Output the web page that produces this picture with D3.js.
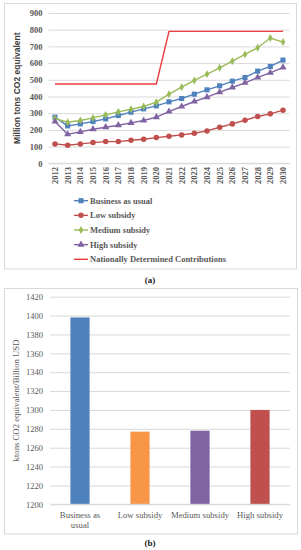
<!DOCTYPE html>
<html>
<head>
<meta charset="utf-8">
<script src="https://cdnjs.cloudflare.com/ajax/libs/d3/7.8.5/d3.min.js"></script>
<style>
  body { margin: 0; background: #fff; }
  svg { display: block; }
  .tick line { stroke: #d9d9d9; }
  .domain { display: none; }
</style>
</head>
<body>
<div id="chart"></div>
<script>
var width = 301;
var height = 550;

// panel (a) data
var years = [2012, 2013, 2014, 2015, 2016, 2017, 2018, 2019, 2020, 2021,
  2022, 2023, 2024, 2025, 2026, 2027, 2028, 2029, 2030];
var businessAsUsual = [276, 224, 236, 250, 266, 286, 306, 326, 344, 368,
  388, 414, 440, 464, 492, 514, 552, 580, 618];
var lowSubsidy = [116, 108, 116, 124, 130, 130, 138, 144, 154, 162,
  170, 180, 194, 216, 236, 258, 280, 296, 318];
var mediumSubsidy = [268, 246, 256, 272, 290, 308, 324, 340, 366, 414,
  456, 496, 534, 572, 612, 652, 692, 750, 726];
var highSubsidy = [250, 174, 188, 204, 216, 228, 242, 256, 276, 310,
  340, 370, 396, 426, 454, 482, 514, 542, 574];
var ndc = [475, 475, 475, 475, 475, 475, 475, 475, 475, 790,
  790, 790, 790, 790, 790, 790, 790, 790, 790];
var lineTicks = [0, 100, 200, 300, 400, 500, 600, 700, 800, 900];

// panel (b) data
var scenarios = ["Business as usual", "Low subsidy", "Medium subsidy", "High subsidy"];
var intensity = [1398, 1277, 1278, 1300];
var barTicks = [1200, 1220, 1240, 1260, 1280, 1300, 1320, 1340, 1360, 1380, 1400, 1420];

var serif = "'Liberation Serif', 'DejaVu Serif', serif";
var grey = "#595959";

var svg = d3.select("#chart").append("svg")
  .attr("width", width)
  .attr("height", height);

// ---------- panel (a) ----------
svg.append("rect")
  .attr("x", 4.5).attr("y", 3.5)
  .attr("width", 292).attr("height", 265.5)
  .attr("fill", "none").attr("stroke", "#d9d9d9");

var x = d3.scalePoint().domain(years).range([55, 283]);
var y = d3.scaleLinear().domain([0, 900]).range([163.3, 13]);

svg.append("g")
  .attr("transform", "translate(48.5,0)")
  .call(d3.axisLeft(y).tickValues(lineTicks).tickSize(-241).tickPadding(6))
  .call(g => g.selectAll("text")
    .attr("font-family", serif).attr("font-size", 8.5)
    .attr("font-weight", "bold").attr("fill", grey));

svg.append("line")
  .attr("x1", 48.5).attr("x2", 289.5)
  .attr("y1", y(0)).attr("y2", y(0))
  .attr("stroke", "#d9d9d9");

svg.append("g").selectAll("text")
  .data(years).enter().append("text")
  .attr("transform", d => "translate(" + x(d) + ",167) rotate(-90)")
  .attr("text-anchor", "end")
  .attr("dy", "0.35em")
  .attr("font-family", serif).attr("font-size", 8.5)
  .attr("font-weight", "bold").attr("fill", grey)
  .text(d => d);

svg.append("text")
  .attr("transform", "translate(20," + y(450) + ") rotate(-90)")
  .attr("text-anchor", "middle")
  .attr("font-family", "'Liberation Sans', Arial, sans-serif")
  .attr("font-size", 8.5).attr("font-weight", "bold").attr("fill", "#404040")
  .text("Million tons CO2  equivalent");

var series = [
  { name: "Business as usual", values: businessAsUsual, color: "#4f81bd", symbol: d3.symbolSquare, size: 26 },
  { name: "Low subsidy", values: lowSubsidy, color: "#c0504d", symbol: d3.symbolCircle, size: 24 },
  { name: "Medium subsidy", values: mediumSubsidy, color: "#9bbb59", symbol: d3.symbolDiamond, size: 18 },
  { name: "High subsidy", values: highSubsidy, color: "#8064a2", symbol: d3.symbolTriangle, size: 22 },
  { name: "Nationally Determined Contributions", values: ndc, color: "#ef3a3f", symbol: null }
];

var line = d3.line()
  .x((d, i) => x(years[i]))
  .y(d => y(d));

// draw NDC first, then scenarios
[4, 0, 1, 2, 3].forEach(function (k) {
  var s = series[k];
  svg.append("path")
    .attr("d", line(s.values))
    .attr("fill", "none")
    .attr("stroke", s.color)
    .attr("stroke-width", 1.4);
  if (s.symbol) {
    svg.append("g").selectAll("path")
      .data(s.values).enter().append("path")
      .attr("transform", (d, i) => "translate(" + x(years[i]) + "," + y(d) + ")")
      .attr("d", d3.symbol().type(s.symbol).size(s.size))
      .attr("fill", s.color);
  }
});

// legend
var legend = svg.append("g").selectAll("g")
  .data(series).enter().append("g")
  .attr("transform", (d, i) => "translate(74," + (200.7 + i * 14.65) + ")");
legend.append("line")
  .attr("x1", 0).attr("x2", 14)
  .attr("stroke", d => d.color).attr("stroke-width", 1.4);
legend.filter(d => d.symbol).append("path")
  .attr("transform", "translate(7,0)")
  .attr("d", d => d3.symbol().type(d.symbol).size(d.size)())
  .attr("fill", d => d.color);
legend.append("text")
  .attr("x", 16).attr("dy", "0.35em")
  .attr("font-family", serif).attr("font-size", 8.5)
  .attr("font-weight", "bold").attr("fill", grey)
  .text(d => d.name);

svg.append("text")
  .attr("x", 150).attr("y", 283)
  .attr("text-anchor", "middle")
  .attr("font-family", serif).attr("font-size", 9)
  .attr("font-weight", "bold").attr("fill", "#222")
  .text("(a)");

// ---------- panel (b) ----------
svg.append("rect")
  .attr("x", 4.5).attr("y", 288.5)
  .attr("width", 293).attr("height", 245.5)
  .attr("fill", "none").attr("stroke", "#d9d9d9");

var xb = d3.scaleBand().domain(scenarios).range([50, 290]).paddingInner(0.68).paddingOuter(0.34);
var yb = d3.scaleLinear().domain([1200, 1420]).range([504.3, 296.7]);

svg.append("g")
  .attr("transform", "translate(50,0)")
  .call(d3.axisLeft(yb).tickValues(barTicks).tickFormat(d3.format("d")).tickSize(-240).tickPadding(7))
  .call(g => g.selectAll("text")
    .attr("font-family", serif).attr("font-size", 8.5)
    .attr("fill", grey));

svg.append("g").selectAll("rect")
  .data(scenarios).enter().append("rect")
  .attr("x", d => xb(d))
  .attr("width", xb.bandwidth())
  .attr("y", (d, i) => yb(intensity[i]))
  .attr("height", (d, i) => yb(1200) - yb(intensity[i]))
  .attr("fill", (d, i) => ["#4f81bd", "#f79646", "#8064a2", "#c0504d"][i]);

svg.append("line")
  .attr("x1", 50).attr("x2", 290)
  .attr("y1", yb(1200)).attr("y2", yb(1200))
  .attr("stroke", "#d9d9d9");

var xl = svg.append("g").selectAll("text")
  .data(scenarios).enter().append("text")
  .attr("x", d => xb(d) + xb.bandwidth() / 2)
  .attr("y", 518)
  .attr("text-anchor", "middle")
  .attr("font-family", serif).attr("font-size", 8.7)
  .attr("fill", grey);
xl.each(function (d) {
  var t = d3.select(this);
  var parts = d === "Business as usual" ? ["Business as", "usual"] : [d];
  parts.forEach(function (p, j) {
    t.append("tspan")
      .attr("x", xb(d) + xb.bandwidth() / 2)
      .attr("dy", j === 0 ? 0 : 9.7)
      .text(p);
  });
});

svg.append("text")
  .attr("transform", "translate(19," + yb(1310) + ") rotate(-90)")
  .attr("text-anchor", "middle")
  .attr("font-family", serif).attr("font-size", 8.7)
  .attr("fill", grey)
  .text("ktons CO2 equivalent/Billion USD");

svg.append("text")
  .attr("x", 150).attr("y", 546)
  .attr("text-anchor", "middle")
  .attr("font-family", serif).attr("font-size", 9)
  .attr("font-weight", "bold").attr("fill", "#222")
  .text("(b)");
</script>
</body>
</html>
